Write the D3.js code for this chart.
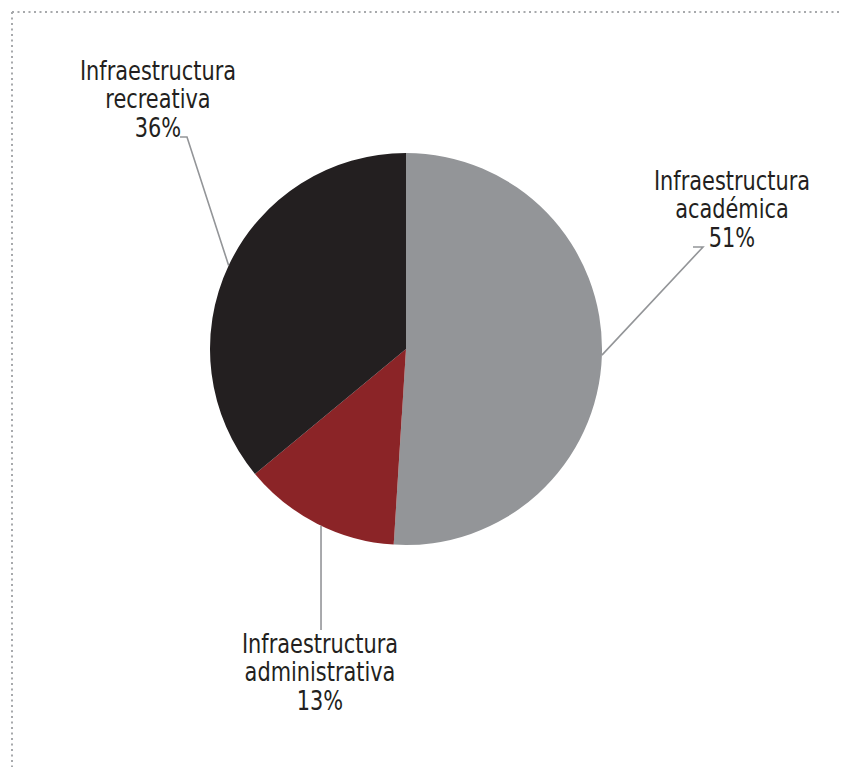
<!DOCTYPE html>
<meta charset="utf-8">
<style>
body { margin: 0; background: #fff; }
.label {
    font-family: "DejaVu Sans Condensed", "Liberation Sans Narrow", sans-serif;
    font-size: 27px;
    fill: #231f20;
}
.leader { fill: none; stroke: #939598; stroke-width: 1.6; }
.frame { stroke: #a7a9ac; stroke-width: 2; stroke-dasharray: 2,3.5; }
</style>
<body>
<script src="https://d3js.org/d3.v7.min.js"></script>
<script>

// data
var categories = ["Infraestructura académica", "Infraestructura administrativa", "Infraestructura recreativa"];
var labelLines = [["Infraestructura", "académica"], ["Infraestructura", "administrativa"], ["Infraestructura", "recreativa"]];
var values = [51, 13, 36];
var colors = ["#939598", "#8b2427", "#231f20"];

var width = 844, height = 767;
var cx = 406, cy = 349, radius = 196;

var svg = d3.select("body").append("svg")
    .attr("width", width)
    .attr("height", height);

// dotted frame (top and left only)
svg.append("line").attr("class", "frame")
    .attr("x1", 12).attr("y1", 12).attr("x2", 839).attr("y2", 12);
svg.append("line").attr("class", "frame")
    .attr("x1", 12).attr("y1", 12).attr("x2", 12).attr("y2", height);

var pie = d3.pie().sort(null).value(function(d) { return d; });
var arcs = pie(values);

var arc = d3.arc().innerRadius(0).outerRadius(radius);

var g = svg.append("g")
    .attr("transform", "translate(" + cx + "," + cy + ")");

g.selectAll("path.slice")
    .data(arcs)
  .enter().append("path")
    .attr("class", "slice")
    .attr("d", arc)
    .attr("fill", function(d, i) { return colors[i]; });

// label layout: text centre x, first baseline y, and the leader bend point
var layout = [
    {x: 732, y: 190, bend: [[703, 247], [693, 247]], vertical: false},
    {x: 320, y: 653, bend: null, vertical: true, end: 630},
    {x: 158, y: 80, bend: [[187, 137], [180, 137]], vertical: false}
];

function edgePoint(d) {
    var a = (d.startAngle + d.endAngle) / 2;
    return [Math.sin(a) * radius, -Math.cos(a) * radius];
}

arcs.forEach(function(d, i) {
    var p = edgePoint(d);
    var L = layout[i];
    var pts;
    if (L.vertical) {
        pts = [[cx + p[0] + 4, cy + p[1] + 2], [cx + p[0] + 4, L.end]];
    } else {
        pts = [[cx + p[0], cy + p[1]]].concat(L.bend);
    }
    svg.append("path")
        .attr("class", "leader")
        .attr("d", d3.line()(pts));

    // squeeze the text horizontally to mimic the condensed face
    var t = svg.append("text")
        .attr("class", "label")
        .attr("text-anchor", "middle")
        .attr("transform", "translate(" + L.x + "," + L.y + ") scale(0.86,1)");
    var lines = labelLines[i].concat([values[i] + "%"]);
    lines.forEach(function(s, j) {
        t.append("tspan")
            .attr("x", 0)
            .attr("dy", j === 0 ? 0 : 28.5)
            .text(s);
    });
});

</script>
</body>
